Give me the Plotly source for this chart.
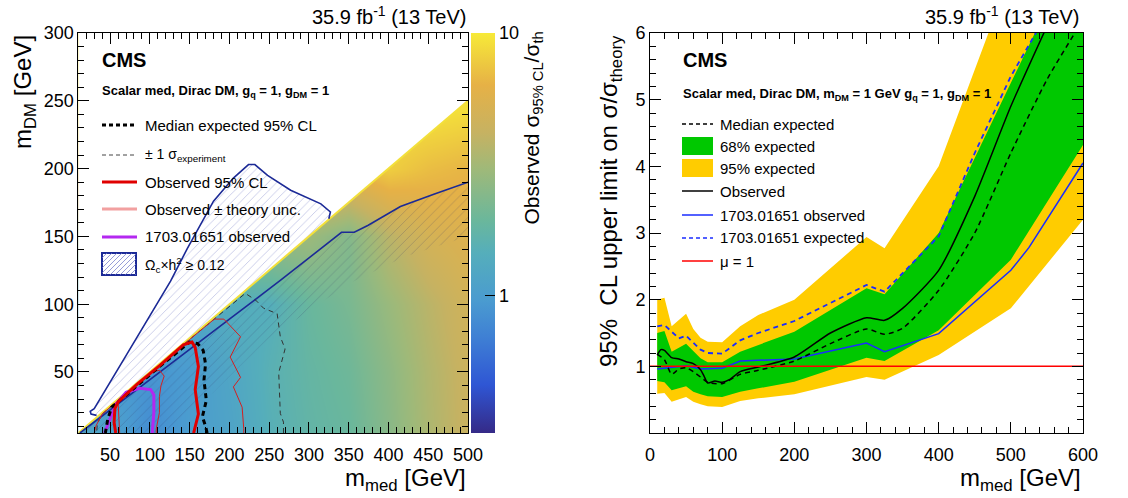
import numpy as np
import plotly.graph_objects as go

W, H = 1128, 498
FONT = "Liberation Sans"


def px(x):
    return x / W


def py(y):
    return 1 - y / H


# ---------------- Left panel data ----------------
MMED_RANGE = [10, 500]
MDM_RANGE = [5, 300]

grid_mmed = [10, 50, 100, 150, 200, 250, 300, 350, 400, 450, 500]
grid_mdm = [5, 50, 100, 150, 200, 250, 300]
ratio_obs = [
    [1.2, 1.1, 0.8, 0.99, 1.14, 1.5, 1.75, 1.9, 2.5, 3.4, 4.4],
    [1.0, 1.0, 0.9, 0.97, 1.2, 1.55, 1.8, 2.0, 2.6, 3.5, 4.5],
    [1.2, 1.2, 1.2, 1.2, 1.4, 1.45, 1.9, 2.2, 2.9, 3.8, 4.8],
    [3.0, 3.0, 3.0, 3.0, 3.0, 3.0, 3.0, 2.4, 3.8, 5.0, 5.6],
    [7.0, 7.0, 7.0, 7.0, 7.0, 7.0, 7.0, 7.0, 8.0, 7.0, 6.5],
    [10, 10, 10, 10, 10, 10, 10, 10, 10, 10, 9.5],
    [10, 10, 10, 10, 10, 10, 10, 10, 10, 10, 10],
]

obs_mmed = [155, 161, 157, 161, 157, 153, 142, 113, 84, 71, 60, 56, 55, 57]
obs_mdm = [5, 19, 37, 54, 68, 72, 70, 55, 41, 34, 28, 23, 13, 5]

obs_up_mmed = [218, 218, 216, 205, 214, 201, 214, 193, 181, 150, 100, 60, 40, 32, 30]
obs_up_mdm = [5, 8.5, 24, 39, 46, 61, 76, 89, 89, 74, 49, 29, 19, 10, 5]

obs_dn_mmed = [62, 61, 60, 75, 90, 104, 112, 118, 114, 112, 112, 108, 108]
obs_dn_mdm = [5, 15, 28, 36, 43, 50, 51.3, 47, 40, 32, 20, 8, 5]

exp_mmed = [172, 170, 166, 171, 168, 170, 167, 160, 150, 110, 80, 60, 52, 47, 44]
exp_mdm = [5, 10, 17, 29, 44, 56, 66, 71, 72, 53, 38, 28, 24, 15, 5]

exp_up_mmed = [268, 268, 264, 262, 270, 264, 260, 243, 233, 220, 150, 80, 40, 34, 33]
exp_up_mdm = [5, 13, 19.5, 49.5, 67, 76, 93, 97, 103, 108, 74, 39, 19, 12, 5]

mag_mmed = [43, 50, 57, 70, 87, 101, 105, 105, 104, 103]
mag_mdm = [5, 15, 26, 35, 38, 37, 33, 20, 10, 5]

relic_lo_mmed = [12, 100, 200, 264, 327, 341, 350, 357, 374, 415, 457, 500]
relic_lo_mdm = [5, 44, 89, 117.5, 147, 153, 153, 153, 158, 172, 181, 190]
relic_lo_edge_mmed = [500, 420, 350, 250, 180, 120, 12]
relic_lo_edge_mdm = [150, 135, 115, 75, 35, 5, 5]

relic_up_mmed = [33, 26, 25, 30, 70, 126, 147, 180, 205, 224, 232, 248, 277, 315, 327, 325]
relic_up_mdm = [18, 19, 21, 23, 62, 117, 141, 176, 193, 203, 203, 195, 184, 174, 168, 163]

# ---------------- Right panel data ----------------
band_mmed = [10, 20, 30, 50, 60, 70, 80, 100, 125, 150, 200, 300, 325, 400, 500, 600]
band95_hi = [2.0, 2.03, 1.6, 1.79, 1.56, 1.43, 1.37, 1.36, 1.6, 1.77, 2.0, 2.94, 2.77, 4.0, 6.9, 9.5]
band68_hi = [1.5, 1.53, 1.22, 1.34, 1.23, 1.12, 1.06, 1.06, 1.22, 1.32, 1.52, 2.17, 2.08, 3.0, 5.25, 7.5]
band68_lo = [0.78, 0.76, 0.64, 0.7, 0.62, 0.58, 0.55, 0.54, 0.62, 0.67, 0.77, 1.13, 1.08, 1.54, 2.6, 4.32]
band95_lo = [0.59, 0.6, 0.47, 0.54, 0.47, 0.43, 0.4, 0.39, 0.48, 0.52, 0.58, 0.84, 0.8, 1.17, 1.87, 3.2]

med_mmed = [10, 20, 30, 40, 50, 60, 70, 80, 100, 125, 150, 200, 250, 300, 325, 350, 400, 450, 500, 550, 600]
med_lim = [1.18, 1.1, 0.88, 0.96, 0.98, 0.92, 0.84, 0.76, 0.74, 0.88, 0.94, 1.08, 1.34, 1.56, 1.48, 1.57, 2.14, 3.0, 4.2, 5.3, 6.2]

obsl_mmed = [10, 15, 20, 30, 40, 50, 60, 70, 75, 80, 90, 100, 110, 125, 150, 200, 250, 300, 325, 350, 400, 450, 500, 550]
obsl_lim = [1.17, 1.25, 1.24, 1.13, 1.11, 1.07, 1.04, 0.95, 0.85, 0.75, 0.78, 0.76, 0.8, 0.92, 0.99, 1.14, 1.5, 1.73, 1.69, 1.87, 2.44, 3.55, 4.9, 6.1]

ref_exp_mmed = [10, 20, 40, 50, 70, 80, 100, 125, 150, 200, 300, 325, 400, 450, 500, 540]
ref_exp_lim = [1.6, 1.62, 1.42, 1.46, 1.25, 1.2, 1.19, 1.39, 1.5, 1.68, 2.22, 2.12, 2.95, 4.2, 5.35, 6.1]

ref_obs_mmed = [10, 50, 70, 100, 125, 200, 300, 325, 400, 500, 525, 600]
ref_obs_lim = [0.96, 1.01, 0.96, 0.97, 1.08, 1.11, 1.35, 1.22, 1.49, 2.44, 2.78, 4.05]

mu_mmed = [0, 600]
mu_val = [1, 1]

# colour-bar ticks (ratio values)
cb_major = [1, 10]
cb_minor = [0.4, 0.5, 0.6, 0.7, 0.8, 0.9, 2, 3, 4, 5, 6, 7, 8, 9]
CB_MIN, CB_MAX = 0.3, 10

# ---------------- Colours ----------------
NAVY = "#1c2a96"
RED = "#e00000"
MAG = "#b428f0"
GREEN = "#00c800"
YELLOW = "#ffcc00"
BLUE = "#1a2cff"
bird = [
    [0.0, "#352a87"], [0.12, "#2f56d4"], [0.24, "#3f80d4"], [0.33, "#4a9bd0"],
    [0.45, "#55aebb"], [0.53, "#6ab79c"], [0.66, "#9fb979"], [0.75, "#c6b262"],
    [0.87, "#e6b146"], [1.0, "#f7ea38"],
]

# layout geometry (pixels)
L_X0, L_X1 = 78.3, 468
R_X0, R_X1 = 650, 1083
P_Y0, P_Y1 = 33, 433
CB_X0, CB_W = 471, 24

fig = go.Figure()

fig.add_trace(go.Heatmap(
    x=grid_mmed, y=grid_mdm, z=np.log10(np.array(ratio_obs, dtype=float)),
    zsmooth="best", colorscale=bird, zmin=np.log10(CB_MIN), zmax=np.log10(CB_MAX),
    xaxis="x", yaxis="y", hoverinfo="skip",
    colorbar=dict(
        x=px(CB_X0), xanchor="left", xpad=0, y=py(P_Y1), yanchor="bottom", ypad=0,
        len=(P_Y1 - P_Y0) / H, lenmode="fraction", thickness=CB_W, thicknessmode="pixels",
        outlinewidth=0, ticks="inside", ticklen=10, tickcolor="black",
        tickvals=np.log10(cb_major), ticktext=[str(v) for v in cb_major],
        tickfont=dict(family=FONT, size=18, color="black"),
    ),
))

# white mask above the kinematic diagonal m_DM = m_med/2
diag_x = [MMED_RANGE[0], MMED_RANGE[1]]
diag_y = [v / 2 for v in diag_x]
fig.add_trace(go.Scatter(
    x=diag_x + [MMED_RANGE[1], MMED_RANGE[0]], y=diag_y + [MDM_RANGE[1], MDM_RANGE[1]],
    fill="toself", fillcolor="white", line=dict(width=0), mode="lines",
    xaxis="x", yaxis="y", hoverinfo="skip", showlegend=False))

fig.add_trace(go.Scatter(
    x=relic_lo_mmed + relic_lo_edge_mmed, y=relic_lo_mdm + relic_lo_edge_mdm,
    fill="toself", fillcolor="rgba(0,0,0,0)", mode="lines", line=dict(width=0),
    fillpattern=dict(shape="/", fgcolor="rgba(50,50,100,0.6)", bgcolor="rgba(0,0,0,0)", size=7, solidity=0.1),
    xaxis="x", yaxis="y", hoverinfo="skip", showlegend=False))

up_diag_x = [relic_up_mmed[-1], relic_up_mmed[0]]
up_diag_y = [v / 2 for v in up_diag_x]
fig.add_trace(go.Scatter(
    x=relic_up_mmed + up_diag_x, y=relic_up_mdm + up_diag_y,
    fill="toself", fillcolor="rgba(0,0,0,0)", mode="lines", line=dict(width=0),
    fillpattern=dict(shape="/", fgcolor="rgba(120,128,200,0.85)", bgcolor="rgba(0,0,0,0)", size=6, solidity=0.15),
    xaxis="x", yaxis="y", hoverinfo="skip", showlegend=False))

fig.add_trace(go.Scatter(x=diag_x, y=diag_y, mode="lines", line=dict(color="#f3e03a", width=2),
                         xaxis="x", yaxis="y", hoverinfo="skip", showlegend=False))


def lline(x, y, color, width, dash="solid"):
    fig.add_trace(go.Scatter(x=x, y=y, mode="lines", line=dict(color=color, width=width, dash=dash),
                             xaxis="x", yaxis="y", hoverinfo="skip", showlegend=False))


lline(relic_up_mmed, relic_up_mdm, NAVY, 1.6)
lline(relic_lo_mmed, relic_lo_mdm, NAVY, 1.6)
lline(exp_up_mmed, exp_up_mdm, "#333333", 1, "5px,4px")
lline(obs_up_mmed, obs_up_mdm, "#d42020", 1)
lline(obs_dn_mmed, obs_dn_mdm, "#d42020", 1)
lline(mag_mmed, mag_mdm, MAG, 3)
lline(exp_mmed, exp_mdm, "black", 3, "5px,4px")
lline(obs_mmed, obs_mdm, RED, 3)


def rtrace(**kw):
    fig.add_trace(go.Scatter(xaxis="x2", yaxis="y2", hoverinfo="skip", showlegend=False, **kw))


rtrace(x=band_mmed + band_mmed[::-1], y=band95_hi + band95_lo[::-1], fill="toself",
       fillcolor=YELLOW, line=dict(width=0), mode="lines")
rtrace(x=band_mmed + band_mmed[::-1], y=band68_hi + band68_lo[::-1], fill="toself",
       fillcolor=GREEN, line=dict(width=0), mode="lines")
rtrace(x=ref_obs_mmed, y=ref_obs_lim, mode="lines", line=dict(color=BLUE, width=1.5))
rtrace(x=ref_exp_mmed, y=ref_exp_lim, mode="lines", line=dict(color=BLUE, width=1.8, dash="5px,4px"))
rtrace(x=med_mmed, y=med_lim, mode="lines", line=dict(color="black", width=1.5, dash="5px,4px", shape="spline", smoothing=0.6))
rtrace(x=obsl_mmed, y=obsl_lim, mode="lines", line=dict(color="black", width=1.5, shape="spline", smoothing=0.6))
rtrace(x=mu_mmed, y=mu_val, mode="lines", line=dict(color="#ff0000", width=1.5))

tickfont = dict(family=FONT, size=18, color="black")
common = dict(showline=True, linecolor="black", linewidth=1, mirror="allticks", ticks="inside",
              ticklen=11, tickcolor="black", showgrid=False, zeroline=False, tickfont=tickfont)

fig.update_layout(
    width=W, height=H, margin=dict(l=0, r=0, t=0, b=0, autoexpand=False),
    paper_bgcolor="white", plot_bgcolor="white", showlegend=False,
    xaxis=dict(domain=[px(L_X0), px(L_X1)], range=MMED_RANGE, anchor="y",
               tickvals=[50, 100, 150, 200, 250, 300, 350, 400, 450, 500], ticklabelstandoff=5,
               minor=dict(ticks="inside", ticklen=6, dtick=10, tick0=0, tickcolor="black"), **common),
    yaxis=dict(domain=[py(P_Y1), py(P_Y0)], range=MDM_RANGE, anchor="x",
               tickvals=[50, 100, 150, 200, 250, 300],
               minor=dict(ticks="inside", ticklen=6, dtick=10, tick0=0, tickcolor="black"), **common),
    xaxis2=dict(domain=[px(R_X0), px(R_X1)], range=[0, 600], anchor="y2",
                tickvals=[0, 100, 200, 300, 400, 500, 600], ticklabelstandoff=5,
                minor=dict(ticks="inside", ticklen=6, dtick=20, tick0=0, tickcolor="black"), **common),
    yaxis2=dict(domain=[py(P_Y1), py(P_Y0)], range=[0, 6], anchor="x2",
                tickvals=[1, 2, 3, 4, 5, 6],
                minor=dict(ticks="inside", ticklen=6, dtick=0.2, tick0=0, tickcolor="black"), **common),
)

ann = []


def text(x, y, s, size, xanchor="left", yanchor="middle", angle=0, color="black"):
    ann.append(dict(x=px(x), y=py(y), xref="paper", yref="paper", text=s, showarrow=False,
                    xanchor=xanchor, yanchor=yanchor, textangle=angle,
                    font=dict(family=FONT, size=size, color=color)))


text(468, 15, "35.9 fb<sup>-1</sup> (13 TeV)", 20, xanchor="right")
text(1081, 15, "35.9 fb<sup>-1</sup> (13 TeV)", 20, xanchor="right")
text(468, 497, "m<sub>med</sub> [GeV]", 24, xanchor="right", yanchor="bottom")
text(1083, 497, "m<sub>med</sub> [GeV]", 24, xanchor="right", yanchor="bottom")
text(24, 33, "m<sub>DM</sub> [GeV]", 24, xanchor="center", yanchor="top", angle=-90)
text(610, 33, "95%  CL upper limit on σ/σ<sub>theory</sub>", 24, xanchor="center", yanchor="top", angle=-90)
text(532, 30, "Observed σ<sub>95% CL</sub>/σ<sub>th</sub>", 21, xanchor="center", yanchor="top", angle=-90)

text(100, 60, "<b>CMS</b>", 20)
text(681, 60, "<b>CMS</b>", 20)
text(100, 92, "<b>Scalar med, Dirac DM, g<sub>q</sub> = 1, g<sub>DM</sub> = 1</b>", 13)
text(681, 94, "<b>Scalar med, Dirac DM, m<sub>DM</sub> = 1 GeV g<sub>q</sub> = 1, g<sub>DM</sub> = 1</b>", 13)

shapes = []


def seg(x0, y0, x1, y1, color, width, dash="solid"):
    shapes.append(dict(type="line", xref="paper", yref="paper", x0=px(x0), y0=py(y0), x1=px(x1), y1=py(y1),
                       line=dict(color=color, width=width, dash=dash)))


def box(x0, y0, x1, y1, fill, line_color=None, lw=0):
    shapes.append(dict(type="rect", xref="paper", yref="paper", x0=px(x0), y0=py(y0), x1=px(x1), y1=py(y1),
                       fillcolor=fill, line=dict(color=line_color or fill, width=lw)))


# colour-bar minor ticks (log positions)
lo, hi = np.log10(CB_MIN), np.log10(CB_MAX)
for v in cb_minor:
    yy = P_Y1 - (np.log10(v) - lo) / (hi - lo) * (P_Y1 - P_Y0)
    seg(CB_X0 + CB_W - 6, yy, CB_X0 + CB_W, yy, "black", 1)

LX0, LX1, LT = 102, 137, 143
leg_left = [
    (125, "Median expected 95% CL", ("black", 3, "4px,3px"), 15),
    (155, "± 1 σ<sub>experiment</sub>", ("#444444", 1, "4px,3px"), 14),
    (182, "Observed 95% CL", (RED, 3, "solid"), 15),
    (209, "Observed ± theory unc.", ("#f2a0a0", 3, "solid"), 15),
    (237, "1703.01651 observed", (MAG, 3, "solid"), 15),
]
for yy, s, (c, w, d), fs in leg_left:
    seg(LX0, yy, LX1, yy, c, w, d)
    text(LT, yy, s, fs)

bx0, by0, bx1, by1 = 102, 253, 136, 275
box(bx0, by0, bx1, by1, "rgba(0,0,0,0)", NAVY, 2)
step = 5
a = bx0 - (by1 - by0)
while a < bx1:
    xs, ys = a, by1
    xe, ye = a + (by1 - by0), by0
    if xs < bx0:
        ys = by1 - (bx0 - xs)
        xs = bx0
    if xe > bx1:
        ye = by0 + (xe - bx1)
        xe = bx1
    if xe > xs:
        seg(xs, ys, xe, ye, "rgba(110,118,200,0.9)", 0.8)
    a += step
text(LT, 265, "Ω<sub>c</sub>×h<sup>2</sup> ≥ 0.12", 14)

RX0, RX1, RT = 682, 713, 718
seg(RX0, 124, RX1, 124, "black", 1.5, "4px,3px")
text(RT, 124, "Median expected", 15)
box(RX0, 137, RX1, 155, GREEN)
text(RT, 146, "68% expected", 15)
box(RX0, 159, RX1, 177, YELLOW)
text(RT, 168, "95% expected", 15)
seg(RX0, 191, RX1, 191, "black", 1.5)
text(RT, 191, "Observed", 15)
seg(RX0, 215, RX1, 215, BLUE, 1.5)
text(RT, 215, "1703.01651 observed", 15)
seg(RX0, 238, RX1, 238, BLUE, 1.5, "4px,3px")
text(RT, 238, "1703.01651 expected", 15)
seg(RX0, 261, RX1, 261, "#ff0000", 1.5)
text(RT, 261, "μ = 1", 15)

fig.update_layout(annotations=ann, shapes=shapes)
fig.write_html("out.html", config={"displayModeBar": False},
               post_script="document.body.style.margin='0px';document.body.style.overflow='hidden';")
